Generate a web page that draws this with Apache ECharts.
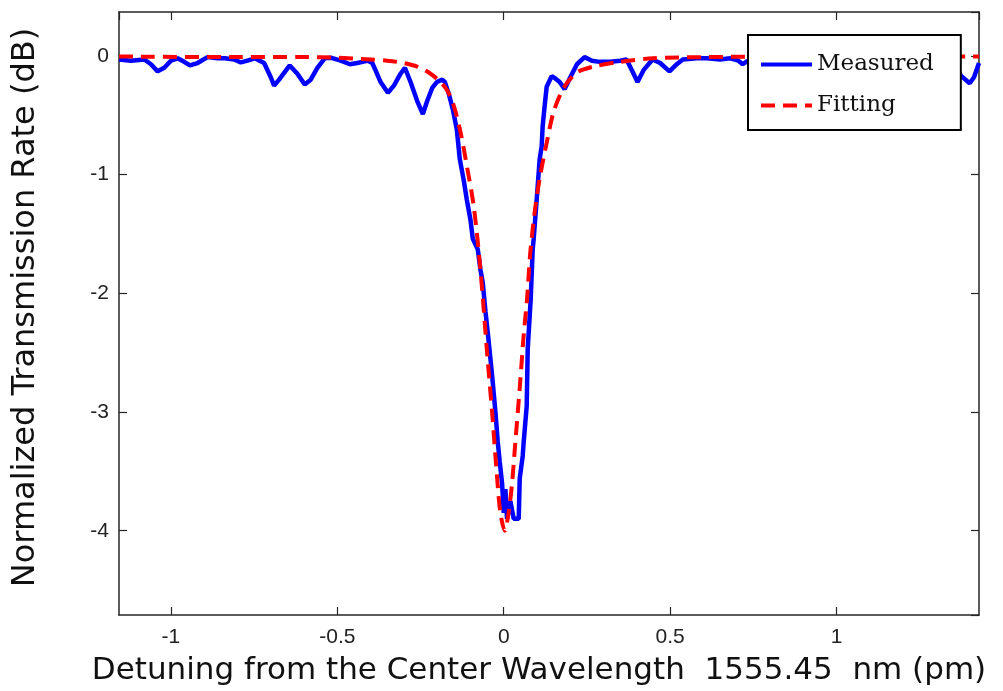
<!DOCTYPE html>
<html>
<head>
<meta charset="utf-8">
<script src="https://cdn.jsdelivr.net/npm/echarts@6/dist/echarts.min.js"></script>
<style>
html,body{margin:0;padding:0;background:#fff;}
#container{width:1003px;height:691px;}
</style>
</head>
<body>
<div id="container"></div>
<script>
// measured transmission (detuning in pm, dB)
var measuredX = [-1.156,-1.12,-1.08,-1.06,-1.04,-1.02,-1.00,-0.98,-0.96,-0.943,-0.92,-0.89,-0.86,-0.838,-0.81,-0.79,-0.77,-0.748,-0.72,-0.70,-0.69,-0.675,-0.643,-0.62,-0.598,-0.58,-0.56,-0.538,-0.52,-0.49,-0.462,-0.44,-0.408,-0.395,-0.387,-0.37,-0.348,-0.33,-0.31,-0.297,-0.28,-0.26,-0.243,-0.23,-0.215,-0.201,-0.185,-0.177,-0.165,-0.153,-0.141,-0.132,-0.12,-0.111,-0.1,-0.093,-0.078,-0.07,-0.063,-0.055,-0.048,-0.04,-0.033,-0.025,-0.018,-0.012,-0.005,0.0,0.005,0.01,0.02,0.03,0.045,0.048,0.057,0.06,0.069,0.072,0.081,0.087,0.09,0.099,0.108,0.114,0.117,0.123,0.129,0.144,0.155,0.168,0.183,0.2,0.22,0.243,0.265,0.288,0.32,0.35,0.369,0.385,0.402,0.42,0.447,0.47,0.498,0.52,0.538,0.58,0.61,0.65,0.68,0.705,0.718,0.74,0.8,0.9,1.0,1.1,1.2,1.3,1.35,1.375,1.40,1.413,1.428];
var measuredY = [-0.03,-0.04,-0.03,-0.07,-0.13,-0.10,-0.04,-0.02,-0.05,-0.08,-0.06,-0.01,-0.02,-0.02,-0.03,-0.055,-0.04,-0.02,-0.06,-0.18,-0.25,-0.2,-0.08,-0.15,-0.24,-0.2,-0.1,-0.02,-0.015,-0.04,-0.07,-0.06,-0.04,-0.06,-0.11,-0.22,-0.31,-0.25,-0.15,-0.10,-0.22,-0.38,-0.49,-0.38,-0.27,-0.22,-0.2,-0.22,-0.32,-0.45,-0.62,-0.87,-1.05,-1.21,-1.38,-1.54,-1.63,-1.8,-1.91,-2.15,-2.33,-2.55,-2.75,-3.0,-3.25,-3.42,-3.6,-3.85,-3.65,-3.9,-3.75,-3.9,-3.9,-3.56,-3.37,-3.25,-2.95,-2.47,-2.05,-1.63,-1.54,-1.21,-0.87,-0.76,-0.59,-0.42,-0.26,-0.17,-0.19,-0.22,-0.28,-0.18,-0.07,-0.01,-0.04,-0.05,-0.05,-0.04,-0.03,-0.12,-0.22,-0.12,-0.03,-0.06,-0.13,-0.07,-0.03,-0.02,-0.02,-0.03,-0.02,-0.04,-0.07,-0.03,-0.02,-0.05,-0.03,-0.05,-0.02,-0.04,-0.06,-0.17,-0.23,-0.18,-0.06];

// fitted curve
var fitX = [-1.156,-0.8,-0.6,-0.5,-0.4,-0.35,-0.3,-0.26,-0.22,-0.19,-0.17,-0.15,-0.13,-0.11,-0.09,-0.07,-0.05,-0.035,-0.02,-0.01,0.003,0.015,0.025,0.035,0.048,0.06,0.07,0.08,0.095,0.11,0.13,0.15,0.18,0.22,0.27,0.35,0.45,0.6,0.9,1.428];
var fitY = [-0.005,-0.01,-0.01,-0.015,-0.03,-0.04,-0.06,-0.09,-0.15,-0.22,-0.29,-0.42,-0.64,-0.94,-1.27,-1.8,-2.5,-3.0,-3.55,-3.85,-4.0,-3.84,-3.6,-3.25,-2.8,-2.35,-2.05,-1.65,-1.27,-1.0,-0.72,-0.47,-0.27,-0.14,-0.09,-0.05,-0.02,-0.01,-0.005,-0.005];

var seriesNames = ['Measured', 'Fitting'];
var xMin = -1.156, xMax = 1.428;
var yMin = -4.71, yMax = 0.37;

function pairs(xs, ys){
	var out = [];
	for (var i = 0; i < xs.length; i++) out.push([xs[i], ys[i]]);
	return out;
}

var dom = document.getElementById('container');
var myChart = echarts.init(dom, null, {renderer: 'canvas'});
var axisLine = {show: true, onZero: false, lineStyle: {color: '#262626', width: 1.5}};
var tick = {show: true, inside: true, length: 8, lineStyle: {color: '#262626', width: 1.2}};

var option = {
	animation: false,
	backgroundColor: '#fff',
	grid: {left: 119, right: 24, top: 12, bottom: 75, containLabel: false},
	legend: {
		data: seriesNames,
		orient: 'vertical',
		left: 748,
		top: 35,
		padding: [18, 27, 13, 11],
		itemWidth: 51,
		itemHeight: 14,
		itemGap: 18,
		backgroundColor: '#fff',
		borderColor: '#000',
		borderWidth: 2,
		borderRadius: 0,
		itemStyle: {color: 'transparent', borderWidth: 0, opacity: 0},
		lineStyle: {width: 4},
		textStyle: {fontFamily: 'DejaVu Serif', fontSize: 23, color: '#111'}
	},
	xAxis: [{
		type: 'value', min: xMin, max: xMax, splitNumber: 5,
		axisLine: axisLine, axisTick: tick, splitLine: {show: false},
		axisLabel: {showMinLabel: false, showMaxLabel: false, margin: 12,
			fontFamily: 'Liberation Sans Narrow, Liberation Sans', fontSize: 21, color: '#222'},
		name: 'Detuning from the Center Wavelength  1555.45  nm (pm)',
		nameLocation: 'middle', nameGap: 40,
		nameTextStyle: {fontFamily: 'DejaVu Sans', fontSize: 31, color: '#111', padding: [0, 20, 0, 0]}
	}, {
		type: 'value', position: 'top', min: xMin, max: xMax, splitNumber: 5,
		axisLine: axisLine, axisTick: tick, splitLine: {show: false}, axisLabel: {show: false}
	}],
	yAxis: [{
		type: 'value', min: yMin, max: yMax, splitNumber: 5,
		axisLine: axisLine, axisTick: tick, splitLine: {show: false},
		axisLabel: {showMinLabel: false, showMaxLabel: false, margin: 10,
			fontFamily: 'Liberation Sans', fontSize: 21, color: '#222'},
		name: 'Normalized Transmission Rate (dB)',
		nameLocation: 'middle', nameGap: 77,
		nameTextStyle: {fontFamily: 'DejaVu Sans', fontSize: 32, color: '#111', padding: [0, 0, 0, 12]}
	}, {
		type: 'value', position: 'right', min: yMin, max: yMax, splitNumber: 5,
		axisLine: axisLine, axisTick: tick, splitLine: {show: false}, axisLabel: {show: false}
	}],
	series: [{
		name: seriesNames[0],
		type: 'line',
		symbol: 'none',
		color: '#0000ff',
		lineStyle: {color: '#0000ff', width: 4.5},
		data: pairs(measuredX, measuredY)
	}, {
		name: seriesNames[1],
		type: 'line',
		symbol: 'none',
		smooth: 0.3,
		color: '#ff0000',
		lineStyle: {color: '#ff0000', width: 4, type: [14, 8]},
		data: pairs(fitX, fitY)
	}]
};
myChart.setOption(option, true);
</script>
</body>
</html>
